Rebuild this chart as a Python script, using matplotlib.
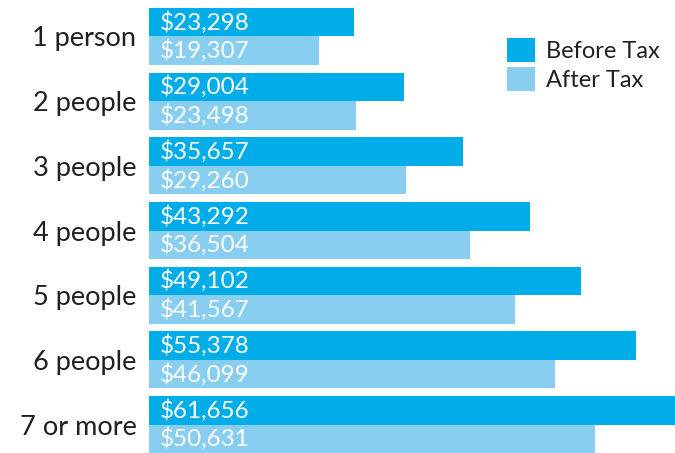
import matplotlib
matplotlib.use("Agg")
import matplotlib.pyplot as plt
import numpy as np

# household size categories and income thresholds
categories = ["1 person", "2 people", "3 people", "4 people", "5 people", "6 people", "7 or more"]
before_tax = [23298, 29004, 35657, 43292, 49102, 55378, 61656]
after_tax = [19307, 23498, 29260, 36504, 41567, 46099, 50631]

BEFORE_COLOR = "#00ADE8"
AFTER_COLOR = "#88CEF1"
TEXT_COLOR = "#231F20"

plt.rcParams['font.family'] = ['Lato', 'DejaVu Sans']

fig = plt.figure(figsize=(6.75, 4.53), dpi=100)
ax = fig.add_axes([149 / 675, 0, 526 / 675, 445 / 453])

h = 0.44
y = np.arange(len(categories))

b1 = ax.barh(y, before_tax, height=h, align='edge', color=BEFORE_COLOR, label='Before Tax')
b2 = ax.barh(y + h, after_tax, height=h, align='edge', color=AFTER_COLOR, label='After Tax')

for yi, v in zip(y, before_tax):
    ax.annotate(f"${v:,}", (0, yi + h / 2), xytext=(8, 0), textcoords='offset points',
                color='white', fontsize=17.5, va='center', ha='left')
for yi, v in zip(y, after_tax):
    ax.annotate(f"${v:,}", (0, yi + 1.5 * h), xytext=(8, 0), textcoords='offset points',
                color='white', fontsize=17.5, va='center', ha='left')

ax.set_xlim(0, 59770)
ax.set_ylim(len(categories) - 1 + 2 * h, 0)

ax.set_yticks(y + h)
ax.set_yticklabels(categories, fontsize=19.5, color=TEXT_COLOR)
ax.tick_params(axis='y', length=0, pad=9)
ax.set_xticks([])
for s in ax.spines.values():
    s.set_visible(False)

leg = ax.legend(handles=[b1, b2], loc='upper left', bbox_to_anchor=(507 / 675, 1 - 38 / 453),
                bbox_transform=fig.transFigure, frameon=False, fontsize=17,
                handlelength=1.2, handleheight=1.2, handletextpad=0.45,
                labelspacing=0.2, borderpad=0, borderaxespad=0)
for t in leg.get_texts():
    t.set_color(TEXT_COLOR)

fig.savefig("out.png", dpi=100)
